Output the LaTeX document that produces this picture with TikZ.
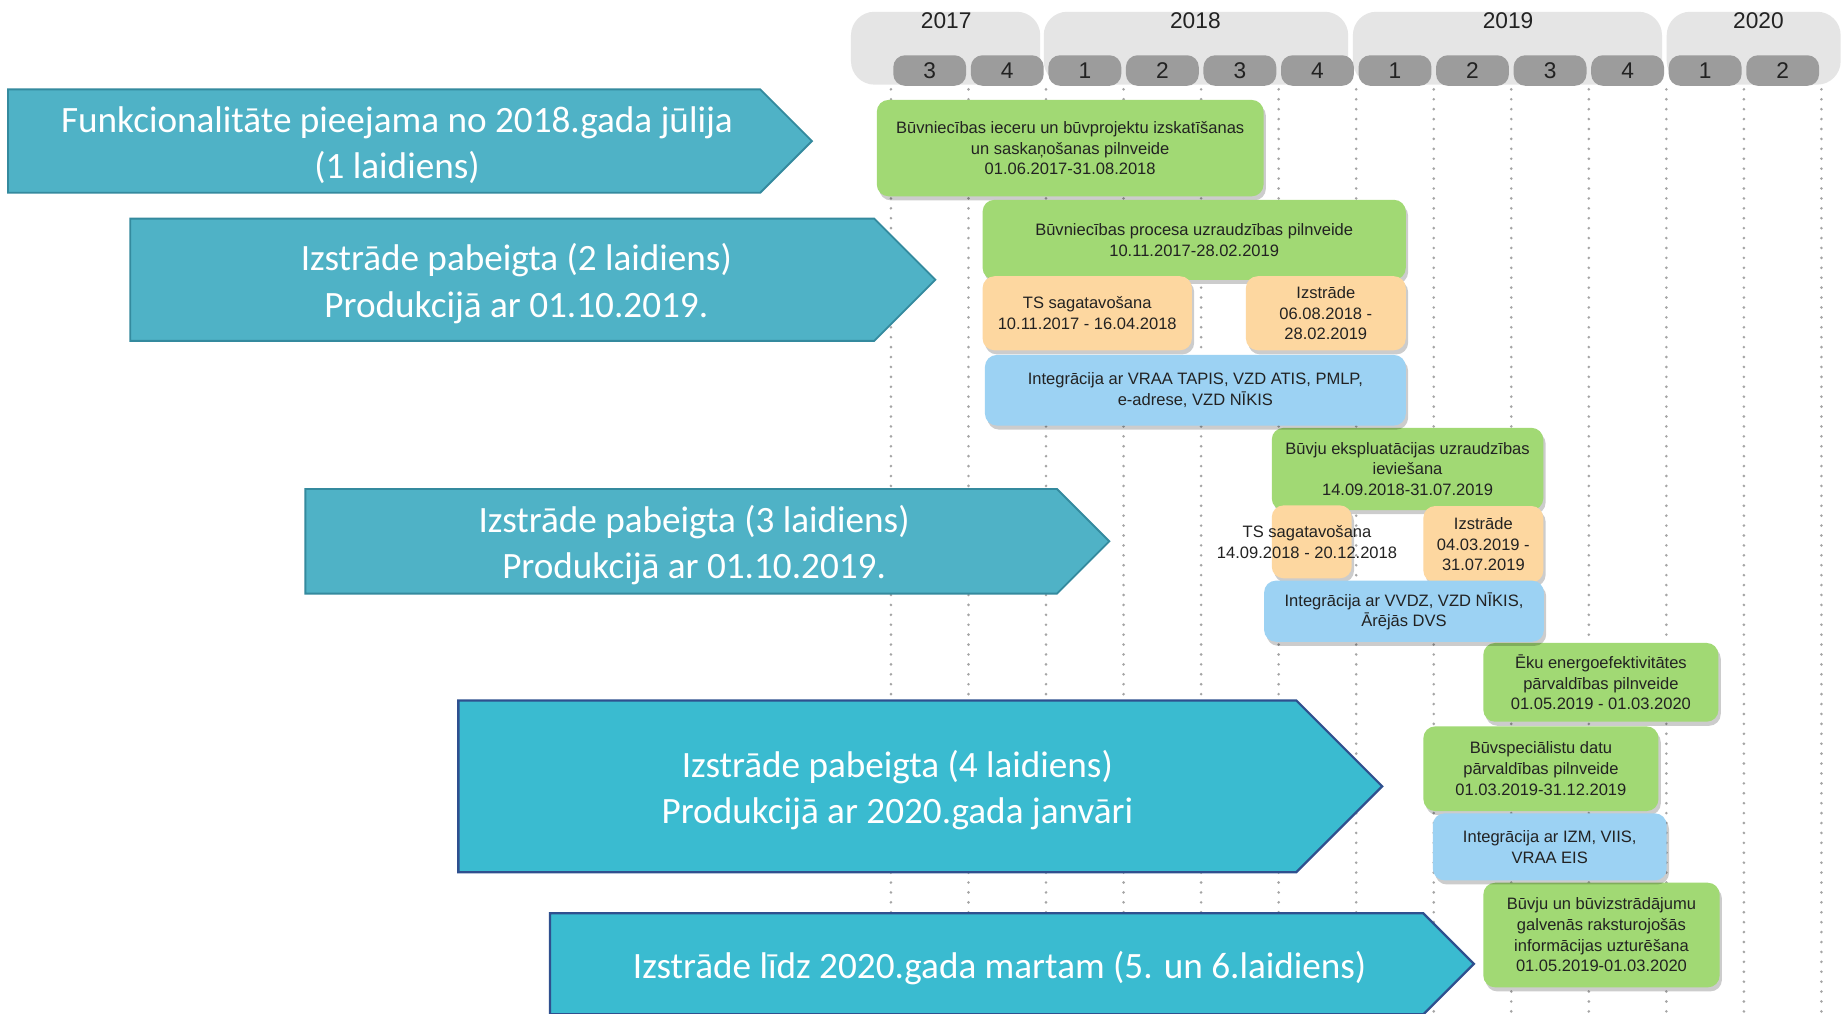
\documentclass[tikz,border=0pt]{standalone}
\usepackage{fontspec}
\setmainfont{Liberation Sans}
\newfontfamily\calibfont{Carlito}
\usetikzlibrary{shapes.symbols,shadows}
\definecolor{yearbg}{RGB}{229,229,229}
\definecolor{pillgrey}{RGB}{156,156,156}
\definecolor{txtdark}{RGB}{34,34,34}
\definecolor{dotgrey}{RGB}{165,165,165}
\definecolor{taskgreen}{RGB}{161,217,116}
\definecolor{taskorange}{RGB}{253,215,160}
\definecolor{taskblue}{RGB}{156,210,243}
\definecolor{relteal}{RGB}{79,178,198}
\definecolor{reltealdark}{RGB}{52,138,158}
\definecolor{relcyan}{RGB}{58,187,208}
\definecolor{relnavy}{RGB}{47,80,143}
\newcommand{\reltext}[2]{\begin{tabular}{@{\hspace{#1}}c@{}}\rule{0pt}{20.5pt}#2\end{tabular}}

\begin{document}
\begin{tikzpicture}[
                x=0.2mm, y=-0.2mm,
                yearbox/.style = {rounded corners=4mm, fill=yearbg, minimum height=12.4mm},
                yeartxt/.style = {font=\fontsize{11}{13}\selectfont, text=txtdark},
                pill/.style = {rounded corners=2mm, fill=pillgrey, minimum width=12.4mm, minimum height=5.2mm,
                               inner sep=0pt, text=txtdark, font=\fontsize{11}{13}\selectfont},
                task/.style = {rounded corners=2mm, align=center, inner sep=1.5pt, text=txtdark,
                               font=\fontsize{8}{10}\selectfont,
                               drop shadow={shadow xshift=0.4mm, shadow yshift=-0.7mm, fill=black, opacity=0.2}},
                G/.style = {task, fill=taskgreen},
                O/.style = {task, fill=taskorange},
                B/.style = {task, fill=taskblue},
                rel/.style = {signal, signal to=east, signal pointer angle=90, anchor=west,
                              text=white, inner sep=0pt, font=\calibfont\fontsize{18}{22.5}\selectfont},
                relA/.style = {rel, fill=relteal, draw=reltealdark, line width=0.9pt},
                relB/.style = {rel, fill=relcyan, draw=relnavy, line width=1.1pt},
                dotline/.style = {draw=dotgrey, line width=1.4pt, line cap=round, dash pattern=on 0pt off 4.8pt}
                    ]
                \path[use as bounding box, fill=white] (0,0) rectangle (1568,862);
                \foreach \i in {0,...,12}
                    \draw[dotline] ({758+65.97*\i},76) -- ({758+65.97*\i},862);
                \node[yearbox, minimum width=32.2mm] (y17) at (804.5,41) {};
                \node[yearbox, minimum width=51.8mm] (y18) at (1017.5,41) {};
                \node[yearbox, minimum width=52.6mm] (y19) at (1282.5,41) {};
                \node[yearbox, minimum width=29.6mm] (y20) at (1492,41) {};
                \node[yeartxt] (t17) at (805,18) {2017};
                \node[yeartxt] (t18) at (1017,18) {2018};
                \node[yeartxt] (t19) at (1283,18) {2019};
                \node[yeartxt] (t20) at (1496,18) {2020};
                \foreach \q [count=\i from 0] in {3,4,1,2,3,4,1,2,3,4,1,2}
                    \node[pill] (q\i) at ({791+65.97*\i},60) {\q};

                \node[relA, minimum width=136.8mm, minimum height=17.6mm] (r1) at (6,120)
                    {\reltext{4.4mm}{Funkcionalitāte pieejama no 2018.gada jūlija\\(1 laidiens)}};
                \node[relA, minimum width=137mm, minimum height=20.8mm] (r2) at (110,238)
                    {\reltext{4.8mm}{Izstrāde pabeigta (2 laidiens)\\Produkcijā ar 01.10.2019.}};
                \node[relA, minimum width=136.8mm, minimum height=17.8mm] (r3) at (259,460.5)
                    {\reltext{4.4mm}{Izstrāde pabeigta (3 laidiens)\\Produkcijā ar 01.10.2019.}};
                \node[relB, minimum width=157.2mm, minimum height=29.2mm] (r4) at (389,669)
                    {\reltext{6.8mm}{Izstrāde pabeigta (4 laidiens)\\Produkcijā ar 2020.gada janvāri}};
                \node[relB, minimum width=157.2mm, minimum height=17.2mm] (r5) at (467,820)
                    {\reltext{4.4mm}{Izstrāde līdz 2020.gada martam (5. un 6.laidiens)}};

                \node[G, minimum width=65.8mm, minimum height=16.4mm] (g1) at (910.5,126)
                    {Būvniecības ieceru un būvprojektu izskatīšanas\\un saskaņošanas pilnveide\\01.06.2017-31.08.2018};
                \node[G, minimum width=72mm, minimum height=13.6mm] (g2) at (1016,204)
                    {Būvniecības procesa uzraudzības pilnveide\\10.11.2017-28.02.2019};
                \node[G, minimum width=46.2mm, minimum height=14mm] (g3) at (1197.5,399)
                    {Būvju ekspluatācijas uzraudzības\\ieviešana\\14.09.2018-31.07.2019};
                \node[G, minimum width=40mm, minimum height=13.4mm] (g4) at (1362,580.5)
                    {Ēku energoefektivitātes\\pārvaldības pilnveide\\01.05.2019 - 01.03.2020};
                \node[G, minimum width=40mm, minimum height=14.4mm] (g5) at (1311,654)
                    {Būvspeciālistu datu\\pārvaldības pilnveide\\01.03.2019-31.12.2019};
                \node[G, minimum width=40.2mm, minimum height=17.8mm] (g6) at (1362.5,795.5)
                    {Būvju un būvizstrādājumu\\galvenās raksturojošās\\informācijas uzturēšana\\01.05.2019-01.03.2020};

                \node[O, minimum width=35.6mm, minimum height=12.6mm] (o1) at (925,266.5)
                    {TS sagatavošana\\10.11.2017 - 16.04.2018};
                \node[O, minimum width=27.2mm, minimum height=12.6mm] (o2) at (1128,266.5)
                    {Izstrāde\\06.08.2018 -\\28.02.2019};
                \node[O, minimum width=13.6mm, minimum height=12.4mm] (o3) at (1116,461) {};
                \node[align=center, text=txtdark, font=\fontsize{8}{10}\selectfont] (o3t) at (1112,461)
                    {TS sagatavošana\\14.09.2018 - 20.12.2018};
                \node[O, minimum width=20.4mm, minimum height=13mm] (o4) at (1262,463)
                    {Izstrāde\\04.03.2019 -\\31.07.2019};

                \node[B, minimum width=71.6mm, minimum height=12mm] (b1) at (1017,332)
                    {Integrācija ar VRAA TAPIS, VZD ATIS, PMLP,\\e-adrese, VZD NĪKIS};
                \node[B, minimum width=47.6mm, minimum height=10.4mm] (b2) at (1194.5,520)
                    {Integrācija ar VVDZ, VZD NĪKIS,\\Ārējās DVS};
                \node[B, minimum width=39.8mm, minimum height=11.4mm] (b3) at (1318.5,720.5)
                    {Integrācija ar IZM, VIIS,\\VRAA EIS};
            \end{tikzpicture}
\end{document}
